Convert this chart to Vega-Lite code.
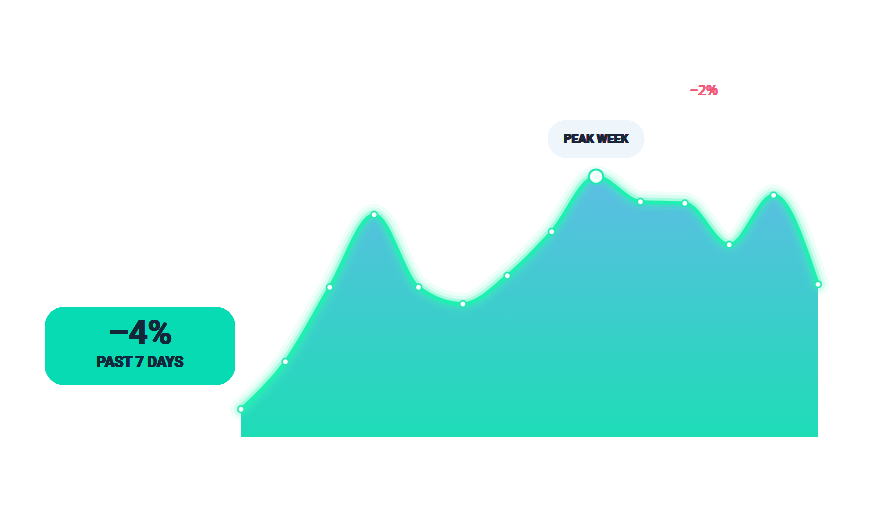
{
  "$schema": "https://vega.github.io/schema/vega-lite/v6.json",
  "width": 887,
  "height": 512,
  "autosize": {"type": "none"},
  "padding": 0,
  "background": "white",
  "view": {"stroke": null},
  "config": {"font": "Roboto"},
  "datasets": {
    "weeks": [
      {"week": 0, "value": 0.396},
      {"week": 1, "value": 1.076},
      {"week": 2, "value": 2.139},
      {"week": 3, "value": 3.176},
      {"week": 4, "value": 2.139},
      {"week": 5, "value": 1.9},
      {"week": 6, "value": 2.304},
      {"week": 7, "value": 2.933},
      {"week": 8, "value": 3.719},
      {"week": 9, "value": 3.361},
      {"week": 10, "value": 3.339},
      {"week": 11, "value": 2.747},
      {"week": 12, "value": 3.453},
      {"week": 13, "value": 2.181}
    ],
    "grid": [{"level": 1}, {"level": 2}, {"level": 3}]
  },
  "data": {"name": "weeks"},
  "encoding": {
    "x": {
      "field": "week", "type": "quantitative",
      "scale": {"domain": [-5.4298, 14.5547], "nice": false, "zero": false},
      "axis": null
    },
    "y": {
      "field": "value", "type": "quantitative",
      "scale": {"domain": [-1.0714, 6.2429], "nice": false, "zero": false},
      "axis": null
    }
  },
  "layer": [
    {
      "mark": {
        "type": "area",
        "interpolate": "monotone",
        "fill": {
          "gradient": "linear",
          "x1": 0, "y1": 0, "x2": 0, "y2": 1,
          "stops": [
            {"offset": 0, "color": "#5dbde4"},
            {"offset": 1, "color": "#1edcb6"}
          ]
        }
      },
      "encoding": {"y2": {"datum": 0}}
    },
    {
      "data": {"name": "grid"},
      "mark": {"type": "rule", "color": "white", "opacity": 0.22, "strokeWidth": 2},
      "encoding": {
        "x": {"datum": 0},
        "x2": {"datum": 13},
        "y": {"field": "level", "type": "quantitative"}
      }
    },
    {
      "mark": {"type": "line", "interpolate": "monotone", "color": "#3ff5bd", "strokeWidth": 22, "opacity": 0.08, "strokeCap": "round"},
      "encoding": {}
    },
    {
      "mark": {"type": "line", "interpolate": "monotone", "color": "#3ff5bd", "strokeWidth": 15, "opacity": 0.14, "strokeCap": "round"},
      "encoding": {}
    },
    {
      "mark": {"type": "line", "interpolate": "monotone", "color": "#2af5b4", "strokeWidth": 9, "opacity": 0.3, "strokeCap": "round"},
      "encoding": {}
    },
    {
      "mark": {"type": "line", "interpolate": "monotone", "color": "#1ef0b0", "strokeWidth": 3.5},
      "encoding": {}
    },
    {
      "transform": [{"filter": "datum.week != 8"}],
      "mark": {"type": "point", "filled": true, "fill": "white", "stroke": "#22e6b0", "strokeWidth": 1.5, "size": 40, "opacity": 1}
    },
    {
      "transform": [{"filter": "datum.week == 8"}],
      "mark": {"type": "point", "filled": true, "fill": "#f2fffb", "stroke": "#22e6b0", "strokeWidth": 2, "size": 210, "opacity": 1}
    },
    {
      "mark": {"type": "rect", "color": "#eef5fb", "cornerRadius": 19},
      "encoding": {
        "x": {"datum": 6.918},
        "x2": {"datum": 9.081},
        "y": {"datum": 4.529},
        "y2": {"datum": 3.986}
      }
    },
    {
      "mark": {"type": "text", "text": "PEAK WEEK", "fontSize": 12, "fontWeight": "bold", "color": "#1a2638", "align": "center", "baseline": "middle"},
      "encoding": {"x": {"datum": 8.0}, "y": {"datum": 4.257}}
    },
    {
      "mark": {"type": "text", "text": "−2%", "font": "Open Sans", "fontSize": 14, "fontWeight": "normal", "color": "#f25a74", "align": "center", "baseline": "middle"},
      "encoding": {"x": {"datum": 10.433}, "y": {"datum": 4.943}}
    },
    {
      "mark": {"type": "rect", "color": "#06dbb3", "cornerRadius": 20},
      "encoding": {
        "x": {"datum": -4.416},
        "x2": {"datum": -0.135},
        "y": {"datum": 1.857},
        "y2": {"datum": 0.743}
      }
    },
    {
      "mark": {"type": "text", "text": "–4%", "fontSize": 33, "fontWeight": "bold", "color": "#14273a", "align": "center", "baseline": "middle"},
      "encoding": {"x": {"datum": -2.276}, "y": {"datum": 1.471}}
    },
    {
      "mark": {"type": "text", "text": "PAST 7 DAYS", "fontSize": 14.5, "fontWeight": "bold", "color": "#14273a", "align": "center", "baseline": "middle"},
      "encoding": {"x": {"datum": -2.276}, "y": {"datum": 1.057}}
    }
  ]
}
